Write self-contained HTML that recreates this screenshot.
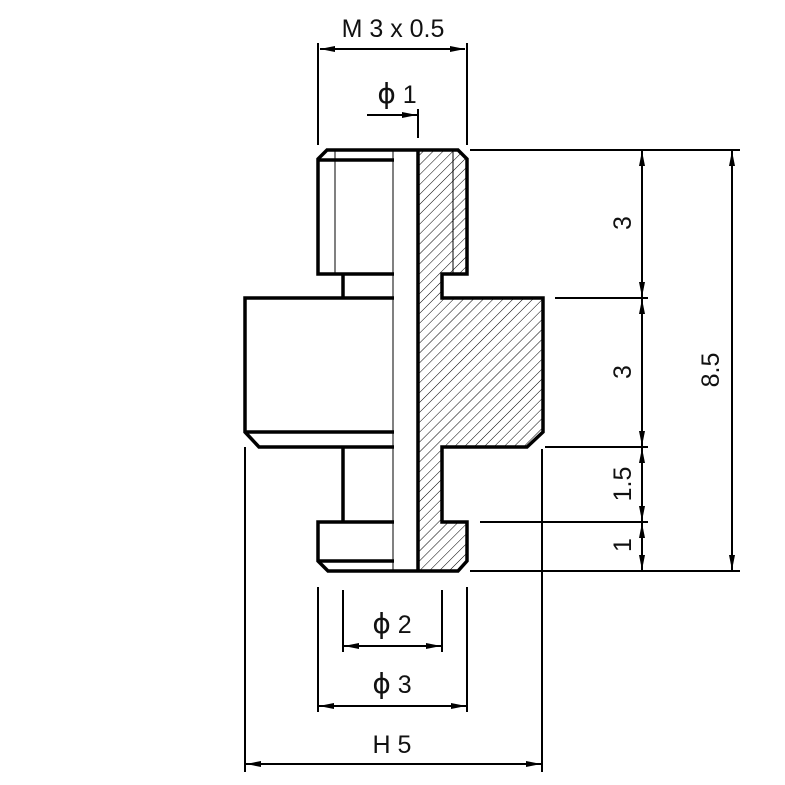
<!DOCTYPE html>
<html><head><meta charset="utf-8"><style>
html,body{margin:0;padding:0;background:#fff;}
svg{display:block;}
text{font-family:"Liberation Sans","DejaVu Sans",sans-serif;font-size:25px;fill:#111;}
.p{font-family:"DejaVu Sans",sans-serif;font-size:28px;}
</style></head><body>
<svg width="785" height="785" viewBox="0 0 785 785" xmlns="http://www.w3.org/2000/svg">
<defs>
<pattern id="h" width="7" height="7" patternUnits="userSpaceOnUse" patternTransform="rotate(45)">
<line x1="0" y1="0" x2="0" y2="7" stroke="#000" stroke-width="1"/>
</pattern>
<marker id="a" markerWidth="16" markerHeight="8" refX="15" refY="4" orient="auto" markerUnits="userSpaceOnUse">
<path d="M0,1 L15,4 L0,7 Z" fill="#000"/>
</marker>
<marker id="b" markerWidth="16" markerHeight="8" refX="0" refY="4" orient="auto" markerUnits="userSpaceOnUse">
<path d="M15,1 L0,4 L15,7 Z" fill="#000"/>
</marker>
</defs>
<rect width="785" height="785" fill="#fff"/>
<polygon points="418,150 458,150 467,159 467,274 442,274 442,298 543,298 543,432 527,447 442,447 442,522 467,522 467,561 458,571 418,571" fill="url(#h)"/>
<rect x="394" y="151" width="23" height="419" fill="#fff"/>
<g fill="none" stroke="#000" stroke-width="3.5" stroke-linejoin="miter">
<polyline points="418,150 458,150 467,159 467,274 442,274 442,298 543,298 543,432 527,447 442,447 442,522 467,522 467,561 458,571 418,571"/>
<line x1="418" y1="150" x2="418" y2="571"/>
<polyline points="394,150 327,150 318,159 318,274 394,274"/>
<line x1="318" y1="160" x2="394" y2="160"/>
<line x1="343" y1="274" x2="343" y2="298"/>
<polyline points="394,298 245,298 245,432 259,447 394,447"/>
<line x1="245" y1="432" x2="394" y2="432"/>
<line x1="343" y1="447" x2="343" y2="522"/>
<polyline points="394,522 318,522 318,561 328,571 394,571"/>
<line x1="318" y1="561" x2="394" y2="561"/>
<line x1="394" y1="150" x2="418" y2="150"/>
<line x1="394" y1="571" x2="418" y2="571"/>
</g>
<g stroke="#000" stroke-width="1" fill="none">
<line x1="393" y1="150" x2="393" y2="571"/>
<line x1="335" y1="150" x2="335" y2="274"/>
<line x1="453" y1="150" x2="453" y2="274"/>
</g>
<g stroke="#000" stroke-width="2" fill="none">
<line x1="318" y1="43" x2="318" y2="145"/>
<line x1="467" y1="43" x2="467" y2="145"/>
<line x1="320" y1="49" x2="465" y2="49" marker-start="url(#b)" marker-end="url(#a)"/>
<line x1="418" y1="109" x2="418" y2="138"/>
<line x1="367" y1="115" x2="417" y2="115" marker-end="url(#a)"/>
<line x1="470" y1="150" x2="740" y2="150"/>
<line x1="555" y1="298" x2="648" y2="298"/>
<line x1="545" y1="447" x2="648" y2="447"/>
<line x1="480" y1="522" x2="648" y2="522"/>
<line x1="470" y1="571" x2="740" y2="571"/>
<line x1="642" y1="151" x2="642" y2="297" marker-start="url(#b)" marker-end="url(#a)"/>
<line x1="642" y1="299" x2="642" y2="446" marker-start="url(#b)" marker-end="url(#a)"/>
<line x1="642" y1="448" x2="642" y2="521" marker-start="url(#b)" marker-end="url(#a)"/>
<line x1="642" y1="523" x2="642" y2="570" marker-start="url(#b)" marker-end="url(#a)"/>
<line x1="732" y1="151" x2="732" y2="570" marker-start="url(#b)" marker-end="url(#a)"/>
<line x1="343" y1="590" x2="343" y2="652"/>
<line x1="442" y1="590" x2="442" y2="652"/>
<line x1="344" y1="646" x2="441" y2="646" marker-start="url(#b)" marker-end="url(#a)"/>
<line x1="318" y1="587" x2="318" y2="712"/>
<line x1="467" y1="587" x2="467" y2="712"/>
<line x1="319" y1="706" x2="466" y2="706" marker-start="url(#b)" marker-end="url(#a)"/>
<line x1="245" y1="447" x2="245" y2="772"/>
<line x1="542" y1="449" x2="542" y2="772"/>
<line x1="246" y1="764" x2="541" y2="764" marker-start="url(#b)" marker-end="url(#a)"/>
</g>
<text x="393" y="37" text-anchor="middle">M 3 x 0.5</text>
<text x="397" y="103" text-anchor="middle"><tspan class="p">ϕ</tspan> 1</text>
<text x="392" y="633" text-anchor="middle"><tspan class="p">ϕ</tspan> 2</text>
<text x="392" y="693" text-anchor="middle"><tspan class="p">ϕ</tspan> 3</text>
<text x="392" y="753" text-anchor="middle">H 5</text>
<text transform="translate(631,223) rotate(-90)" text-anchor="middle">3</text>
<text transform="translate(631,372) rotate(-90)" text-anchor="middle">3</text>
<text transform="translate(631,484) rotate(-90)" text-anchor="middle">1.5</text>
<text transform="translate(631,545) rotate(-90)" text-anchor="middle">1</text>
<text transform="translate(719,370) rotate(-90)" text-anchor="middle">8.5</text>
</svg>
</body></html>
